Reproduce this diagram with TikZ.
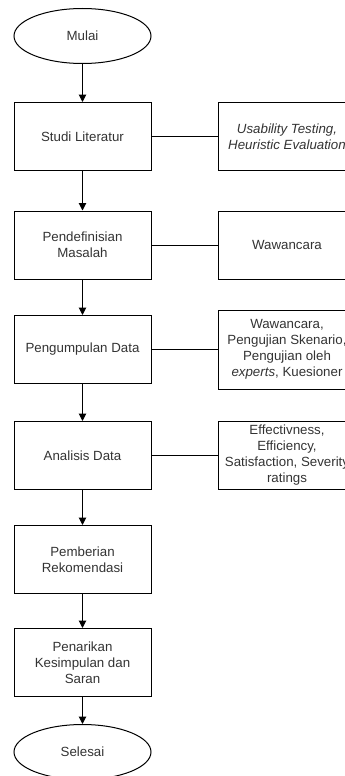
\documentclass[tikz,border=0pt]{standalone}
\usepackage{fontspec}
\setmainfont{Liberation Sans}
\usetikzlibrary{shapes.geometric,arrows.meta}
\definecolor{txtgray}{HTML}{333333}
\tikzset{
  proc/.style={rectangle,draw=black,line width=1pt,minimum width=137pt,minimum height=68pt,inner sep=1pt,align=center,text=txtgray,font=\fontsize{13.3}{16}\selectfont},
  term/.style={ellipse,draw=black,line width=1pt,minimum width=137pt,minimum height=55pt,inner sep=0pt,text=txtgray,font=\fontsize{13.3}{16}\selectfont},
  note/.style={proc,minimum width=138pt},
  flow/.style={-{Triangle[length=7.5pt,width=7.5pt]},line width=1pt,black},
  link/.style={line width=1pt,black},
}

\begin{document}
\begin{tikzpicture}[x=1pt,y=-1pt]
  \useasboundingbox (0,0) rectangle (345,776);
  \clip (0,0) rectangle (345,776);
  % main steps
  \node[term](mulai) at (82.5,36){Mulai};
  \node[proc](studi) at (82.5,136.5){Studi Literatur};
  \node[proc](definisi) at (82.5,245){Pendefinisian\\Masalah};
  \node[proc](kumpul) at (82.5,349.5){Pengumpulan Data};
  \node[proc](analisis) at (82.5,455.5){Analisis Data};
  \node[proc](rekom) at (82.5,559.5){Pemberian\\Rekomendasi};
  \node[proc](simpul) at (82.5,662.5){Penarikan\\Kesimpulan dan\\Saran};
  \node[term](selesai) at (82.5,752){Selesai};
  % side notes
  \node[note](n1) at (287,136.5){\textit{Usability Testing,}\\\textit{Heuristic Evaluation}};
  \node[note](n2) at (287,245){Wawancara};
  \node[note,minimum height=79pt](n3) at (287,349.5){Wawancara,\\Pengujian Skenario,\\Pengujian oleh\\\textit{experts}, Kuesioner};
  \node[note](n4) at (287,455.5){Effectivness,\\Efficiency,\\Satisfaction, Severity\\ratings};
  \draw[flow] (mulai)--(studi); \draw[flow] (studi)--(definisi); \draw[flow] (definisi)--(kumpul);
  \draw[flow] (kumpul)--(analisis); \draw[flow] (analisis)--(rekom); \draw[flow] (rekom)--(simpul);
  \draw[flow] (simpul)--(selesai);
  \draw[link] (studi)--(n1); \draw[link] (definisi)--(n2);
  \draw[link] (kumpul)--(n3); \draw[link] (analisis)--(n4);
\end{tikzpicture}
\end{document}
